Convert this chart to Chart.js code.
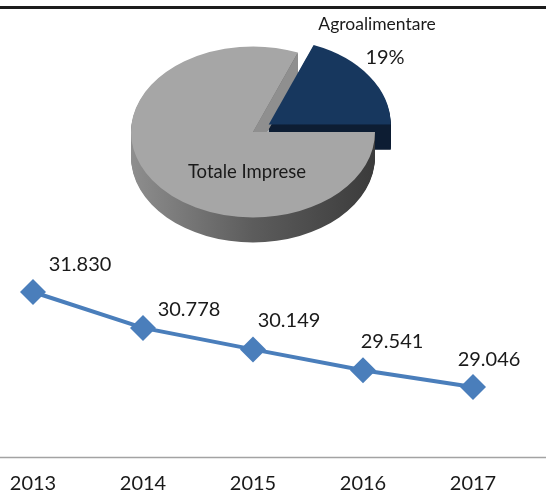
<!DOCTYPE html>
<html>
<head>
<meta charset="utf-8">
<script src="https://cdn.jsdelivr.net/npm/chart.js@4.4.1/dist/chart.umd.min.js"></script>
<style>
  html, body { margin: 0; padding: 0; background: #fff; overflow: hidden; }
  #wrap { position: relative; width: 546px; height: 494px; overflow: hidden; }
  #wrap canvas { position: absolute; left: 0; top: 0; }
  #rule { position: absolute; left: 0; top: 6px; width: 546px; height: 3px; background: #1c1c1c; }
</style>
</head>
<body>
<div id="wrap">
  <canvas id="lineChart" width="546" height="523"></canvas>
  <canvas id="pieChart" width="546" height="260"></canvas>
  <div id="rule"></div>
</div>
<script>
// --- data ---
const pieLabels = ['Agroalimentare', 'Totale Imprese'];
const pieValues = [19, 81];

const years = ['2013', '2014', '2015', '2016', '2017'];
const imprese = [31830, 30778, 30149, 29541, 29046];

const FONT = 'Lato, "Liberation Sans", sans-serif';
const TEXT = '#1a1a1a';

// 31830 -> "31.830"
const fmt = (v) => String(v).replace(/\B(?=(\d{3})+(?!\d))/g, '.');

/**
 * Fake 3D pie: squash the context vertically, extrude each slice downward,
 * then let the arc elements paint their top faces.
 */
const pie3d = {
  id: 'pie3d',
  beforeDatasetsDraw(chart, args, o) {
    const ctx = chart.ctx;
    const arcs = chart.getDatasetMeta(0).data;
    const cx = arcs[0].x;
    const cy = arcs[0].y;
    ctx.save();
    ctx.translate(cx, cy);
    ctx.scale(1, o.tilt);
    ctx.translate(-cx, -cy);

    const geo = arcs.map((arc, i) => {
      const p = arc.getProps(['x', 'y', 'startAngle', 'endAngle', 'outerRadius'], true);
      const mid = (p.startAngle + p.endAngle) / 2;
      p.ex = Math.cos(mid) * o.explode[i];
      p.ey = Math.sin(mid) * o.explode[i];
      return p;
    });

    // side walls
    geo.forEach((p, i) => {
      const x = p.x + p.ex;
      const y = p.y + p.ey;
      const r = p.outerRadius;
      const stops = o.sideColors[i];
      const grad = ctx.createLinearGradient(x - r, 0, x + r, 0);
      stops.forEach((c, k) => grad.addColorStop(k / (stops.length - 1), c));
      ctx.fillStyle = grad;
      for (let s = o.depth; s >= 1; s--) {
        const dy = s / o.tilt;
        ctx.beginPath();
        ctx.moveTo(x, y + dy);
        ctx.arc(x, y + dy, r, p.startAngle, p.endAngle);
        ctx.closePath();
        ctx.fill();
      }
      // cut wall along the closing edge
      const d = o.depth / o.tilt;
      const ax = x + Math.cos(p.endAngle) * r;
      const ay = y + Math.sin(p.endAngle) * r;
      ctx.fillStyle = o.wallColors[i];
      ctx.beginPath();
      ctx.moveTo(x, y);
      ctx.lineTo(ax, ay);
      ctx.lineTo(ax, ay + d);
      ctx.lineTo(x, y + d);
      ctx.closePath();
      ctx.fill();
    });

    // top faces, drawn by the library's arc elements
    arcs.forEach((arc, i) => {
      ctx.save();
      ctx.translate(geo[i].ex, geo[i].ey);
      arc.draw(ctx);
      ctx.restore();
    });
    ctx.restore();
    return false;
  },
  afterDraw(chart, args, o) {
    const ctx = chart.ctx;
    const arcs = chart.getDatasetMeta(0).data;
    const cx = arcs[0].x;
    const cy = arcs[0].y;
    const total = pieValues.reduce((a, b) => a + b, 0);
    ctx.save();
    ctx.fillStyle = TEXT;
    ctx.textAlign = 'center';
    ctx.textBaseline = 'alphabetic';
    ctx.font = `17.5px ${FONT}`;
    ctx.fillText(pieLabels[0], cx + o.nameAt[0], cy + o.nameAt[1]);
    ctx.font = `20px ${FONT}`;
    ctx.fillText(Math.round(pieValues[0] / total * 100) + '%', cx + o.pctAt[0], cy + o.pctAt[1]);
    ctx.font = `18.5px ${FONT}`;
    ctx.fillText(pieLabels[1], cx + o.innerAt[0], cy + o.innerAt[1]);
    ctx.restore();
  }
};

const valueLabels = {
  id: 'valueLabels',
  afterDatasetsDraw(chart, args, o) {
    const ctx = chart.ctx;
    const pts = chart.getDatasetMeta(0).data;
    ctx.save();
    ctx.fillStyle = TEXT;
    ctx.font = `20px ${FONT}`;
    ctx.textAlign = 'center';
    ctx.textBaseline = 'alphabetic';
    pts.forEach((pt, i) => {
      const [dx, dy] = o.shift[i];
      ctx.fillText(fmt(chart.data.datasets[0].data[i]), pt.x + dx, pt.y + dy);
    });
    ctx.restore();
  },
  afterDraw(chart) {
    // category axis line across the whole width
    const ctx = chart.ctx;
    const y = Math.round(chart.chartArea.bottom) + 0.5;
    ctx.save();
    ctx.strokeStyle = '#a3a3a3';
    ctx.lineWidth = 1.5;
    ctx.beginPath();
    ctx.moveTo(0, y);
    ctx.lineTo(chart.width, y);
    ctx.stroke();
    ctx.restore();
  }
};

const pieTotal = pieValues.reduce((a, b) => a + b, 0);

new Chart(document.getElementById('lineChart'), {
  type: 'line',
  data: {
    labels: years,
    datasets: [{
      data: imprese,
      borderColor: '#4A7EBB',
      backgroundColor: '#4A7EBB',
      borderWidth: 4,
      pointStyle: 'rectRot',
      pointRadius: 13,
      pointBorderWidth: 0,
      tension: 0,
      clip: false
    }]
  },
  options: {
    responsive: false,
    animation: false,
    layout: { padding: { left: 33, right: 73, top: 252, bottom: 12 } },
    scales: {
      x: {
        offset: false,
        grid: { display: false, drawTicks: false },
        border: { display: false },
        ticks: { color: TEXT, font: { family: FONT, size: 20 }, padding: 15, maxRotation: 0, autoSkip: false },
        afterFit(scale) { scale.paddingLeft = 0; scale.paddingRight = 0; }
      },
      y: { display: false, min: 27000, max: 33000 }
    },
    plugins: {
      legend: { display: false },
      tooltip: { enabled: false },
      valueLabels: { shift: [[47, -21], [46, -12], [36, -22], [29, -22], [16, -21]] }
    }
  },
  plugins: [valueLabels]
});

new Chart(document.getElementById('pieChart'), {
  type: 'pie',
  data: {
    labels: pieLabels,
    datasets: [{
      data: pieValues,
      backgroundColor: ['#17375E', '#A6A6A6'],
      borderWidth: 0,
      clip: false
    }]
  },
  options: {
    responsive: false,
    animation: false,
    // first slice ends at 3 o'clock
    rotation: 90 - pieValues[0] / pieTotal * 360,
    radius: 122,
    layout: { padding: { left: 131, top: 10, right: 171, bottom: 6 } },
    plugins: {
      legend: { display: false },
      tooltip: { enabled: false },
      pie3d: {
        tilt: 0.7,
        depth: 25,
        explode: [19, 0],
        sideColors: [['#0d1d33', '#0b1a2e'], ['#8e8e8e', '#5c5c5c', '#3b3b3b']],
        wallColors: ['#0d1d33', '#8f8f8f'],
        nameAt: [124, -102],
        pctAt: [132, -68],
        innerAt: [-6, 46]
      }
    }
  },
  plugins: [pie3d]
});
</script>
</body>
</html>
